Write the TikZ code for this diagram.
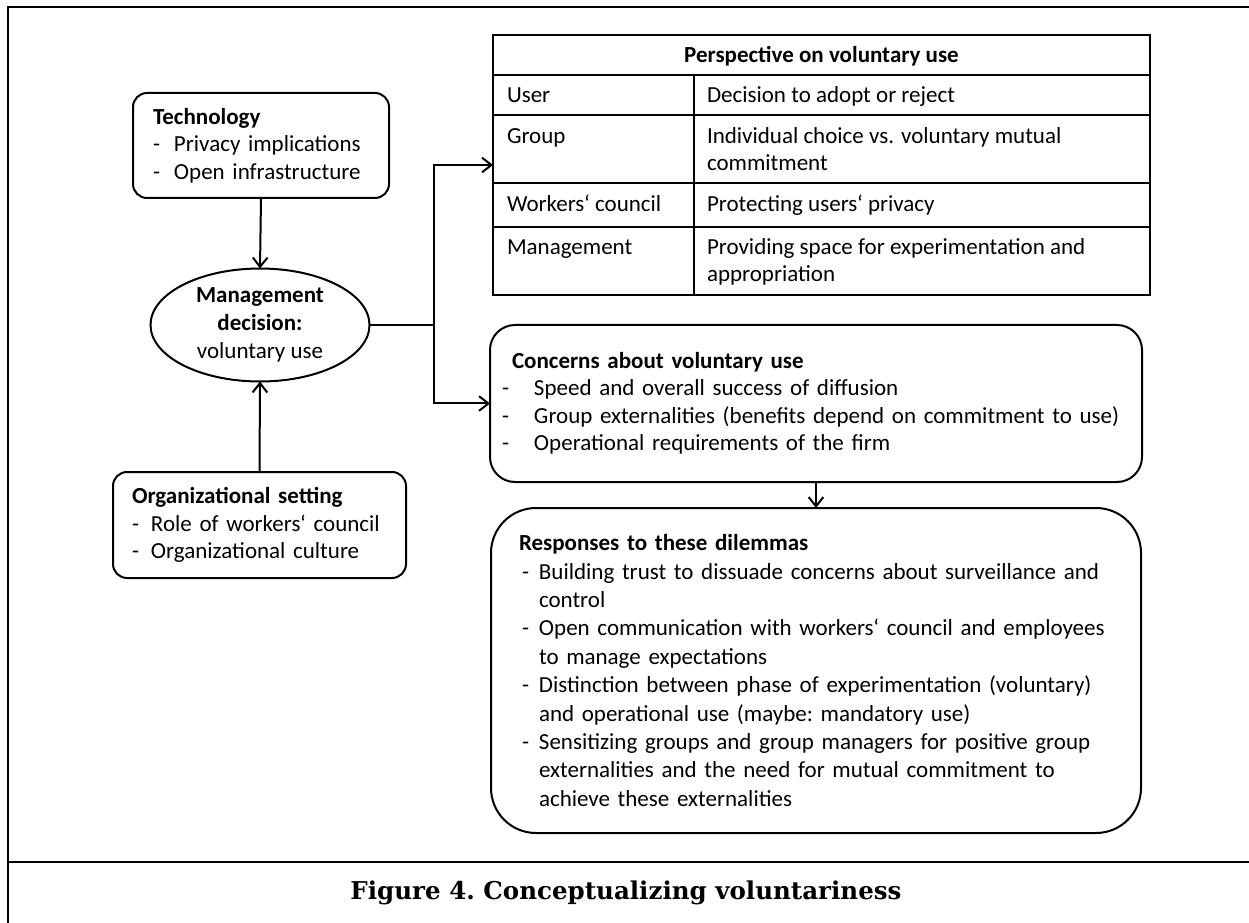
\documentclass[tikz,border=0pt]{standalone}
\usepackage{fontspec}
\setmainfont{Carlito}
\newfontfamily\capfont{DejaVu Serif}
\usetikzlibrary{arrows.meta,shapes.geometric}
\newcommand\bodysz{\fontsize{17.25pt}{20.6pt}\selectfont}
\newcommand\respsz{\fontsize{17.25pt}{21.3pt}\selectfont}
\newcommand\tabsz{\fontsize{17.25pt}{19.9pt}\selectfont}
\newcommand\bdash[1]{\makebox[#1][l]{-}}
\begin{document}
\begin{tikzpicture}[x=0.75pt,y=-0.75pt,
  every node/.style={inner sep=0pt, outer sep=0pt},
  rbox/.style={draw, line width=1.5pt, align=left, font=\bodysz},
  conn/.style={line width=1.5pt},
  arr/.style={conn,-{Straight Barb[length=7pt,width=11pt]}},
  tline/.style={line width=1.1pt},
  cell/.style={anchor=base west, font=\tabsz},
  frame/.style={line width=2.2pt}]
\useasboundingbox (0,0) rectangle (1249,923);
% frame
\draw[frame] (8,923) -- (8,7) -- (1249,7);
\draw[frame] (8,862) -- (1249,862);
% technology
\node[rbox, rounded corners=10.5pt, minimum width=192pt, minimum height=78.75pt,
      text width=162pt, inner xsep=15pt] (tech) at (261,145.5)
 {\textbf{Technology}\\ \bdash{15.75pt}Privacy implications\\ \bdash{15.75pt}Open infrastructure};
% organizational setting
\node[rbox, rounded corners=10.5pt, minimum width=219.75pt, minimum height=79.5pt,
      text width=191.25pt, inner xsep=14.25pt] (org) at (259.5,525)
 {\textbf{Organizational setting}\\ \bdash{14.25pt}Role of workers‘ council\\ \bdash{14.25pt}Organizational culture};
% ellipse
\node[draw, ellipse, line width=1.5pt, minimum width=164.25pt, minimum height=84.75pt,
      inner sep=-6pt, align=center, font=\fontsize{17.25pt}{21pt}\selectfont] (ell) at (260,325)
 {\textbf{Management}\\ \textbf{decision:}\\ voluntary use};
% table
\node[draw, line width=1.1pt, minimum width=492.75pt, minimum height=195pt] (tab) at (821.5,165) {};
\draw[tline] (493,75) -- (1150,75);
\draw[tline] (493,115) -- (1150,115);
\draw[tline] (493,183) -- (1150,183);
\draw[tline] (493,227) -- (1150,227);
\draw[tline] (694,75) -- (694,295);
\node[anchor=base, font=\bfseries\tabsz] (th) at (821.5,63) {Perspective on voluntary use};
\node[cell] (c1a) at (507,103) {User};
\node[cell] (c1b) at (707,103) {Decision to adopt or reject};
\node[cell] (c2a) at (507,144) {Group};
\node[cell] (c2b) at (707,144) {\begin{tabular}[t]{@{}l@{}}Individual choice vs. voluntary mutual\\ commitment\end{tabular}};
\node[cell] (c3a) at (507,212) {Workers‘ council};
\node[cell] (c3b) at (707,212) {Protecting users‘ privacy};
\node[cell] (c4a) at (507,255) {Management};
\node[cell] (c4b) at (707,255) {\begin{tabular}[t]{@{}l@{}}Providing space for experimentation and\\ appropriation\end{tabular}};
% concerns
\node[rbox, rounded corners=18.75pt, minimum width=489pt, minimum height=117.75pt,
      text width=471pt, inner xsep=9pt] (conc) at (816,403.5)
 {\hspace*{7.5pt}\textbf{Concerns about voluntary use}\\
  \bdash{24pt}Speed and overall success of diffusion\\
  \bdash{24pt}Group externalities (benefits depend on commitment to use)\\
  \bdash{24pt}Operational requirements of the firm};
% responses
\node[rbox, rounded corners=33.75pt, minimum width=487.5pt, minimum height=243.75pt,
      text width=445.5pt, inner xsep=21pt, font=\respsz] (resp) at (816,670.5)
 {\textbf{Responses to these dilemmas}\\
  \hspace*{2.25pt}\bdash{12.75pt}Building trust to dissuade concerns about surveillance and\\
  \hspace*{15pt}control\\
  \hspace*{2.25pt}\bdash{12.75pt}Open communication with workers‘ council and employees\\
  \hspace*{15pt}to manage expectations\\
  \hspace*{2.25pt}\bdash{12.75pt}Distinction between phase of experimentation (voluntary)\\
  \hspace*{15pt}and operational use (maybe:\ mandatory use)\\
  \hspace*{2.25pt}\bdash{12.75pt}Sensitizing groups and group managers for positive group\\
  \hspace*{15pt}externalities and the need for mutual commitment to\\
  \hspace*{15pt}achieve these externalities};
% connectors
\path (ell.east) ++(64,0) coordinate (j);
\draw[arr] (tech.south) -- (ell.north);
\draw[arr] (org.north) -- (ell.south);
\draw[conn] (ell.east) -- (j);
\draw[arr] (j) |- (tab.west);
\draw[arr] (j) |- (conc.west);
\draw[arr] (conc.south) -- (resp.north);
% caption
\node[font=\capfont\bfseries\fontsize{18.4pt}{22pt}\selectfont] (cap) at (626,893)
 {Figure 4.\ Conceptualizing voluntariness};
\end{tikzpicture}
\end{document}
